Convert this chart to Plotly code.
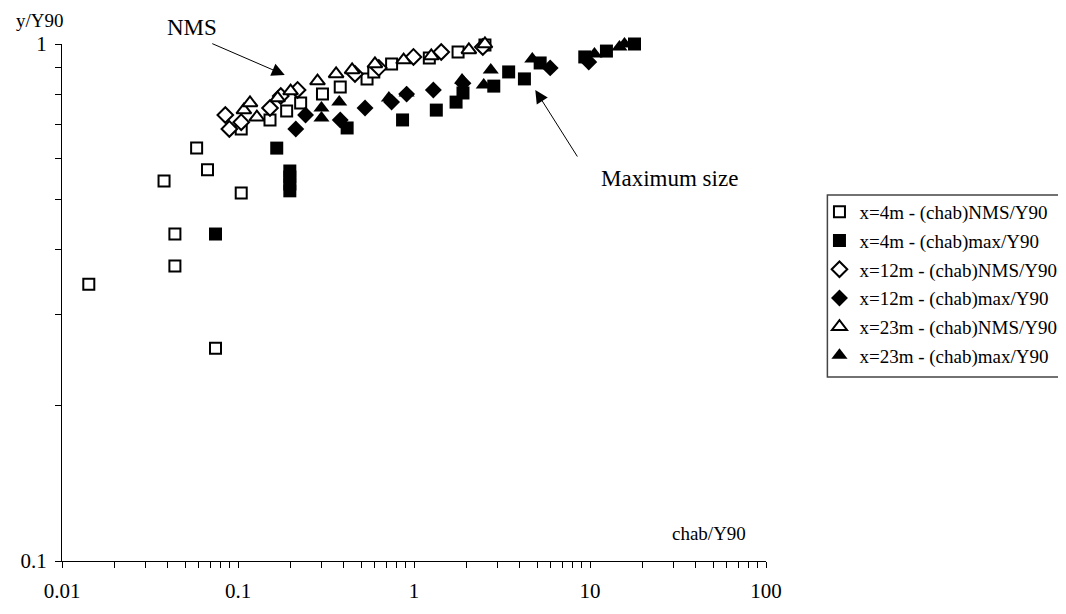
import plotly.graph_objects as go

# 4m NMS (open squares)
x4_nms = [0.0142, 0.038, 0.0438, 0.0438, 0.0582, 0.0671, 0.0745, 0.1043, 0.1043, 0.152, 0.189, 0.227,
          0.302, 0.381, 0.541, 0.591, 0.746, 1.222, 1.78, 2.53]
y4_nms = [0.343, 0.543, 0.429, 0.372, 0.629, 0.571, 0.258, 0.515, 0.685, 0.713, 0.742, 0.769,
          0.800, 0.826, 0.856, 0.883, 0.915, 0.940, 0.965, 0.996]
# 4m max (filled squares)
x4_max = [0.0745, 0.166, 0.197, 0.197, 0.197, 0.197, 0.417, 0.861, 1.339, 1.734, 1.898, 2.84,
          3.45, 4.24, 5.21, 9.34, 12.4, 17.9]
y4_max = [0.429, 0.629, 0.568, 0.553, 0.536, 0.520, 0.688, 0.713, 0.745, 0.772, 0.804, 0.829,
          0.883, 0.856, 0.919, 0.944, 0.969, 1.0]
# 12m NMS (open diamonds)
x12_nms = [0.0847, 0.0893, 0.1043, 0.152, 0.175, 0.218, 0.462, 0.631, 0.993, 1.428, 2.46]
y12_nms = [0.729, 0.685, 0.706, 0.752, 0.793, 0.815, 0.875, 0.899, 0.944, 0.965, 0.987]
# 12m max (filled diamonds)
x12_max = [0.213, 0.242, 0.381, 0.527, 0.746, 0.908, 1.288, 1.898, 5.94, 9.84]
y12_max = [0.685, 0.729, 0.713, 0.752, 0.772, 0.800, 0.815, 0.840, 0.899, 0.923]
# 23m NMS (open triangles)
x23_nms = [0.108, 0.117, 0.128, 0.168, 0.199, 0.283, 0.361, 0.445, 0.600, 0.873, 1.254, 2.05, 2.53]
y23_nms = [0.745, 0.769, 0.722, 0.786, 0.811, 0.848, 0.875, 0.891, 0.915, 0.931, 0.948, 0.974, 1.0]
# 23m max (filled triangles)
x23_max = [0.298, 0.298, 0.376, 0.720, 0.908, 1.875, 2.49, 2.73, 4.70, 10.6, 14.7, 15.7]
y23_max = [0.752, 0.719, 0.772, 0.786, 0.804, 0.852, 0.833, 0.891, 0.935, 0.956, 0.987, 1.0]

names = ["x=4m - (chab)NMS/Y90", "x=4m - (chab)max/Y90", "x=12m - (chab)NMS/Y90",
         "x=12m - (chab)max/Y90", "x=23m - (chab)NMS/Y90", "x=23m - (chab)max/Y90"]

x_major = [0.01, 0.1, 1, 10, 100]
x_major_text = ["0.01", "0.1", "1", "10", "100"]
y_major = [0.1, 1]
y_major_text = ["0.1", "1"]

FONT = "Liberation Serif"

series = [
    (x4_nms, y4_nms, "square", "white", 11),
    (x4_max, y4_max, "square", "black", 13),
    (x12_nms, y12_nms, "diamond", "white", 12),
    (x12_max, y12_max, "diamond", "black", 13),
    (x23_nms, y23_nms, "triangle-up", "white", 13),
    (x23_max, y23_max, "triangle-up", "black", 14),
]

fig = go.Figure()
for i, ((xs, ys, sym, fill, sz), nm) in enumerate(zip(series, names)):
    fig.add_trace(go.Scatter(
        x=xs, y=ys, mode="markers", name=nm, legendgroup=str(i),
        cliponaxis=False,
        marker=dict(symbol=sym, color=fill, size=sz,
                    line=dict(color="black", width=2 if fill == "white" else 0)),
    ))

# tick positions: majors with labels, minors blank
def log_ticks(majors, texts):
    vals, txt = [], []
    for k, m in enumerate(majors):
        vals.append(m)
        txt.append(texts[k])
        if k < len(majors) - 1:
            for d in range(2, 10):
                vals.append(m * d)
                txt.append("")
    return vals, txt

xv, xt = log_ticks(x_major, x_major_text)
yv, yt = log_ticks(y_major, y_major_text)

fig.update_xaxes(type="log", range=[-2, 2], tickvals=xv, ticktext=xt, ticks="outside",
                 ticklen=6, tickcolor="black", showline=True, linecolor="black", linewidth=1,
                 showgrid=False, zeroline=False, ticklabelstandoff=5,
                 tickfont=dict(family=FONT, size=21, color="black"))
fig.update_yaxes(type="log", range=[-1, 0], tickvals=yv, ticktext=yt, ticks="outside",
                 ticklen=6, tickcolor="black", showline=True, linecolor="black", linewidth=1,
                 showgrid=False, zeroline=False, ticklabelstandoff=4,
                 tickfont=dict(family=FONT, size=21, color="black"))

def px(x):
    return (x - 62) / 711

def py(y):
    return (561 - y) / 517

ann_font = dict(family=FONT, size=19, color="black")
big_font = dict(family=FONT, size=23, color="black")
for txt, (ax_, ay_), fnt in [("y/Y90", (40, 20), ann_font),
                             ("chab/Y90", (715, 533), ann_font),
                             ("NMS", (193, 27), big_font),
                             ("Maximum size", (676, 178), big_font)]:
    fig.add_annotation(x=px(ax_), y=py(ay_), xref="paper", yref="paper", text=txt,
                       showarrow=False, font=fnt, xanchor="center", yanchor="middle")
# arrows
fig.add_annotation(x=px(287), y=py(75), xref="paper", yref="paper", text="",
                   showarrow=True, ax=-74, ay=-32, arrowhead=2, arrowsize=2.6,
                   arrowwidth=1, arrowcolor="black")
fig.add_annotation(x=px(540), y=py(90), xref="paper", yref="paper", text="",
                   showarrow=True, ax=43, ay=68, arrowhead=2, arrowsize=2.6,
                   arrowwidth=1, arrowcolor="black")

# legend box
fig.add_shape(type="rect", xref="paper", yref="paper", x0=px(835), x1=px(1075),
              y0=py(377), y1=py(195), line=dict(color="#444444", width=1.5), fillcolor="rgba(0,0,0,0)")

fig.update_layout(
    width=1066, height=614,
    margin=dict(l=54, r=301, t=36, b=61),
    paper_bgcolor="white", plot_bgcolor="white",
    showlegend=True,
    legend=dict(x=px(827), y=py(193), xanchor="left", yanchor="top",
                font=dict(family=FONT, size=19, color="black"),
                traceorder="grouped", tracegroupgap=1,
                bgcolor="rgba(0,0,0,0)", borderwidth=0, itemwidth=30),
    font=dict(family=FONT, color="black"),
)

fig.write_html("out.html")
